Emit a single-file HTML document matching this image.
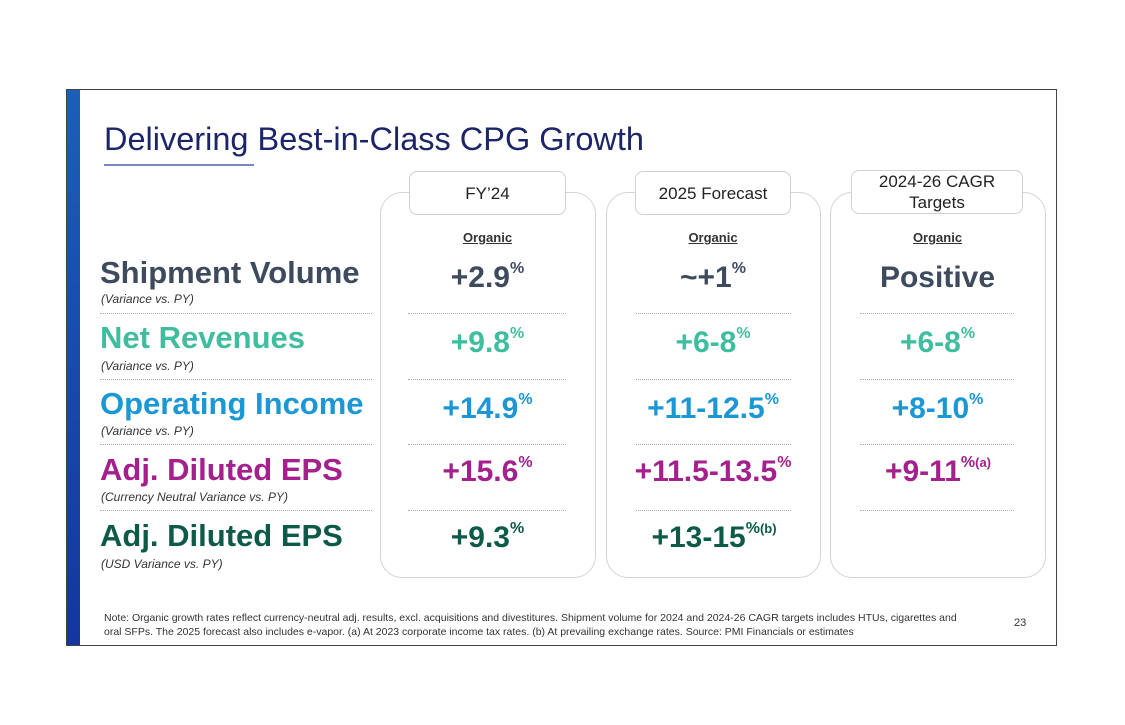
<!DOCTYPE html>
<html><head><meta charset="utf-8"><style>
body{margin:0;width:1125px;height:725px;background:#fff;position:relative;overflow:hidden;font-family:"Liberation Sans",sans-serif}
.a{position:absolute}
.frame{left:66px;top:89px;width:991px;height:557px;border:1.5px solid #444;box-sizing:border-box}
.bar{left:67px;top:90px;width:13px;height:555px;background:linear-gradient(#1a5fb8,#1436a0)}
.title{left:104px;top:121px;font-size:32.5px;color:#1c2569;white-space:nowrap}
.ul{left:104px;top:164px;width:150px;height:1.5px;background:#7a86c4}
.col{border:1.5px solid #d4d4d4;border-radius:22px;background:#fff;box-sizing:border-box}
.tab{border:1.5px solid #cfcfcf;border-radius:8px;background:#fff;box-sizing:border-box;display:flex;align-items:center;justify-content:center;text-align:center;font-size:17px;color:#222;line-height:21px}
.org{font-size:13px;text-decoration:underline;color:#333;text-align:center;font-weight:bold}
.lab{left:100px;font-size:31px;font-weight:bold;white-space:nowrap}
.sub{left:101px;font-size:12px;font-style:italic;color:#333;white-space:nowrap}
.dot{height:0;border-top:1.5px dotted #aaa}
.val{font-size:30px;font-weight:bold;text-align:center;white-space:nowrap}
.val sup{font-size:16px;vertical-align:top;position:relative;top:-1px}
.c1{color:#3e4a5e}.c2{color:#3fbd9f}.c3{color:#1a97d4}.c4{color:#a3208d}.c5{color:#0e5a48}
.note{left:104px;top:611px;font-size:10.5px;color:#333;line-height:14px;width:865px}
</style></head><body>
<div class="a frame"></div>
<div class="a bar"></div>
<div class="a title">Delivering Best-in-Class CPG Growth</div>
<div class="a ul"></div>

<div class="a col" style="left:380px;top:192px;width:216px;height:386px"></div>
<div class="a col" style="left:606px;top:192px;width:215px;height:386px"></div>
<div class="a col" style="left:830px;top:192px;width:216px;height:386px"></div>
<div class="a tab" style="left:409px;top:171px;width:157px;height:44px">FY’24</div>
<div class="a tab" style="left:635px;top:171px;width:156px;height:44px">2025 Forecast</div>
<div class="a tab" style="left:851px;top:170px;width:172px;height:44px">2024-26 CAGR<br>Targets</div>
<div class="a org" style="left:409px;top:230px;width:157px">Organic</div>
<div class="a org" style="left:635px;top:230px;width:156px">Organic</div>
<div class="a org" style="left:860px;top:230px;width:155px">Organic</div>

<div class="a lab c1" style="top:255px">Shipment Volume</div>
<div class="a sub" style="top:292px">(Variance vs. PY)</div>
<div class="a lab c2" style="top:320px">Net Revenues</div>
<div class="a sub" style="top:359px">(Variance vs. PY)</div>
<div class="a lab c3" style="top:386px">Operating Income</div>
<div class="a sub" style="top:424px">(Variance vs. PY)</div>
<div class="a lab c4" style="top:452px">Adj. Diluted EPS</div>
<div class="a sub" style="top:490px">(Currency Neutral Variance vs. PY)</div>
<div class="a lab c5" style="top:518px">Adj. Diluted EPS</div>
<div class="a sub" style="top:557px">(USD Variance vs. PY)</div>

<div id="lines"></div>

<div class="a val c1" style="left:409px;top:261px;width:157px">+2.9<sup>%</sup></div>
<div class="a val c1" style="left:635px;top:261px;width:156px">~+1<sup>%</sup></div>
<div class="a val c1" style="left:860px;top:261px;width:155px">Positive</div>
<div class="a val c2" style="left:409px;top:326px;width:157px">+9.8<sup>%</sup></div>
<div class="a val c2" style="left:635px;top:326px;width:156px">+6-8<sup>%</sup></div>
<div class="a val c2" style="left:860px;top:326px;width:155px">+6-8<sup>%</sup></div>
<div class="a val c3" style="left:409px;top:392px;width:157px">+14.9<sup>%</sup></div>
<div class="a val c3" style="left:608px;top:392px;width:210px">+11-12.5<sup>%</sup></div>
<div class="a val c3" style="left:860px;top:392px;width:155px">+8-10<sup>%</sup></div>
<div class="a val c4" style="left:409px;top:455px;width:157px">+15.6<sup>%</sup></div>
<div class="a val c4" style="left:604px;top:455px;width:218px">+11.5-13.5<sup>%</sup></div>
<div class="a val c4" style="left:852px;top:455px;width:172px">+9-11<sup>%<span style="font-size:13px">(a)</span></sup></div>
<div class="a val c5" style="left:409px;top:521px;width:157px">+9.3<sup>%</sup></div>
<div class="a val c5" style="left:616px;top:521px;width:196px">+13-15<sup>%<span style="font-size:13px">(b)</span></sup></div>

<div class="a note">Note: Organic growth rates reflect currency-neutral adj. results, excl. acquisitions and divestitures. Shipment volume for 2024 and 2024-26 CAGR targets includes HTUs, cigarettes and oral SFPs. The 2025 forecast also includes e-vapor. (a) At 2023 corporate income tax rates. (b) At prevailing exchange rates. Source: PMI Financials or estimates</div>
<div class="a" style="left:1014px;top:617px;font-size:11px;color:#333">23</div>
<script>
const ys=[313,379,444,510];
const segs=[[100,372],[408,566],[636,791],[860,1014]];
const host=document.getElementById('lines');
ys.forEach(y=>segs.forEach(s=>{
 const d=document.createElement('div');
 
 
 d.className='a dot';d.style.left=s[0]+'px';d.style.top=y+'px';d.style.width=(s[1]-s[0])+'px';
 host.appendChild(d);
}));
</script>
</body></html>
